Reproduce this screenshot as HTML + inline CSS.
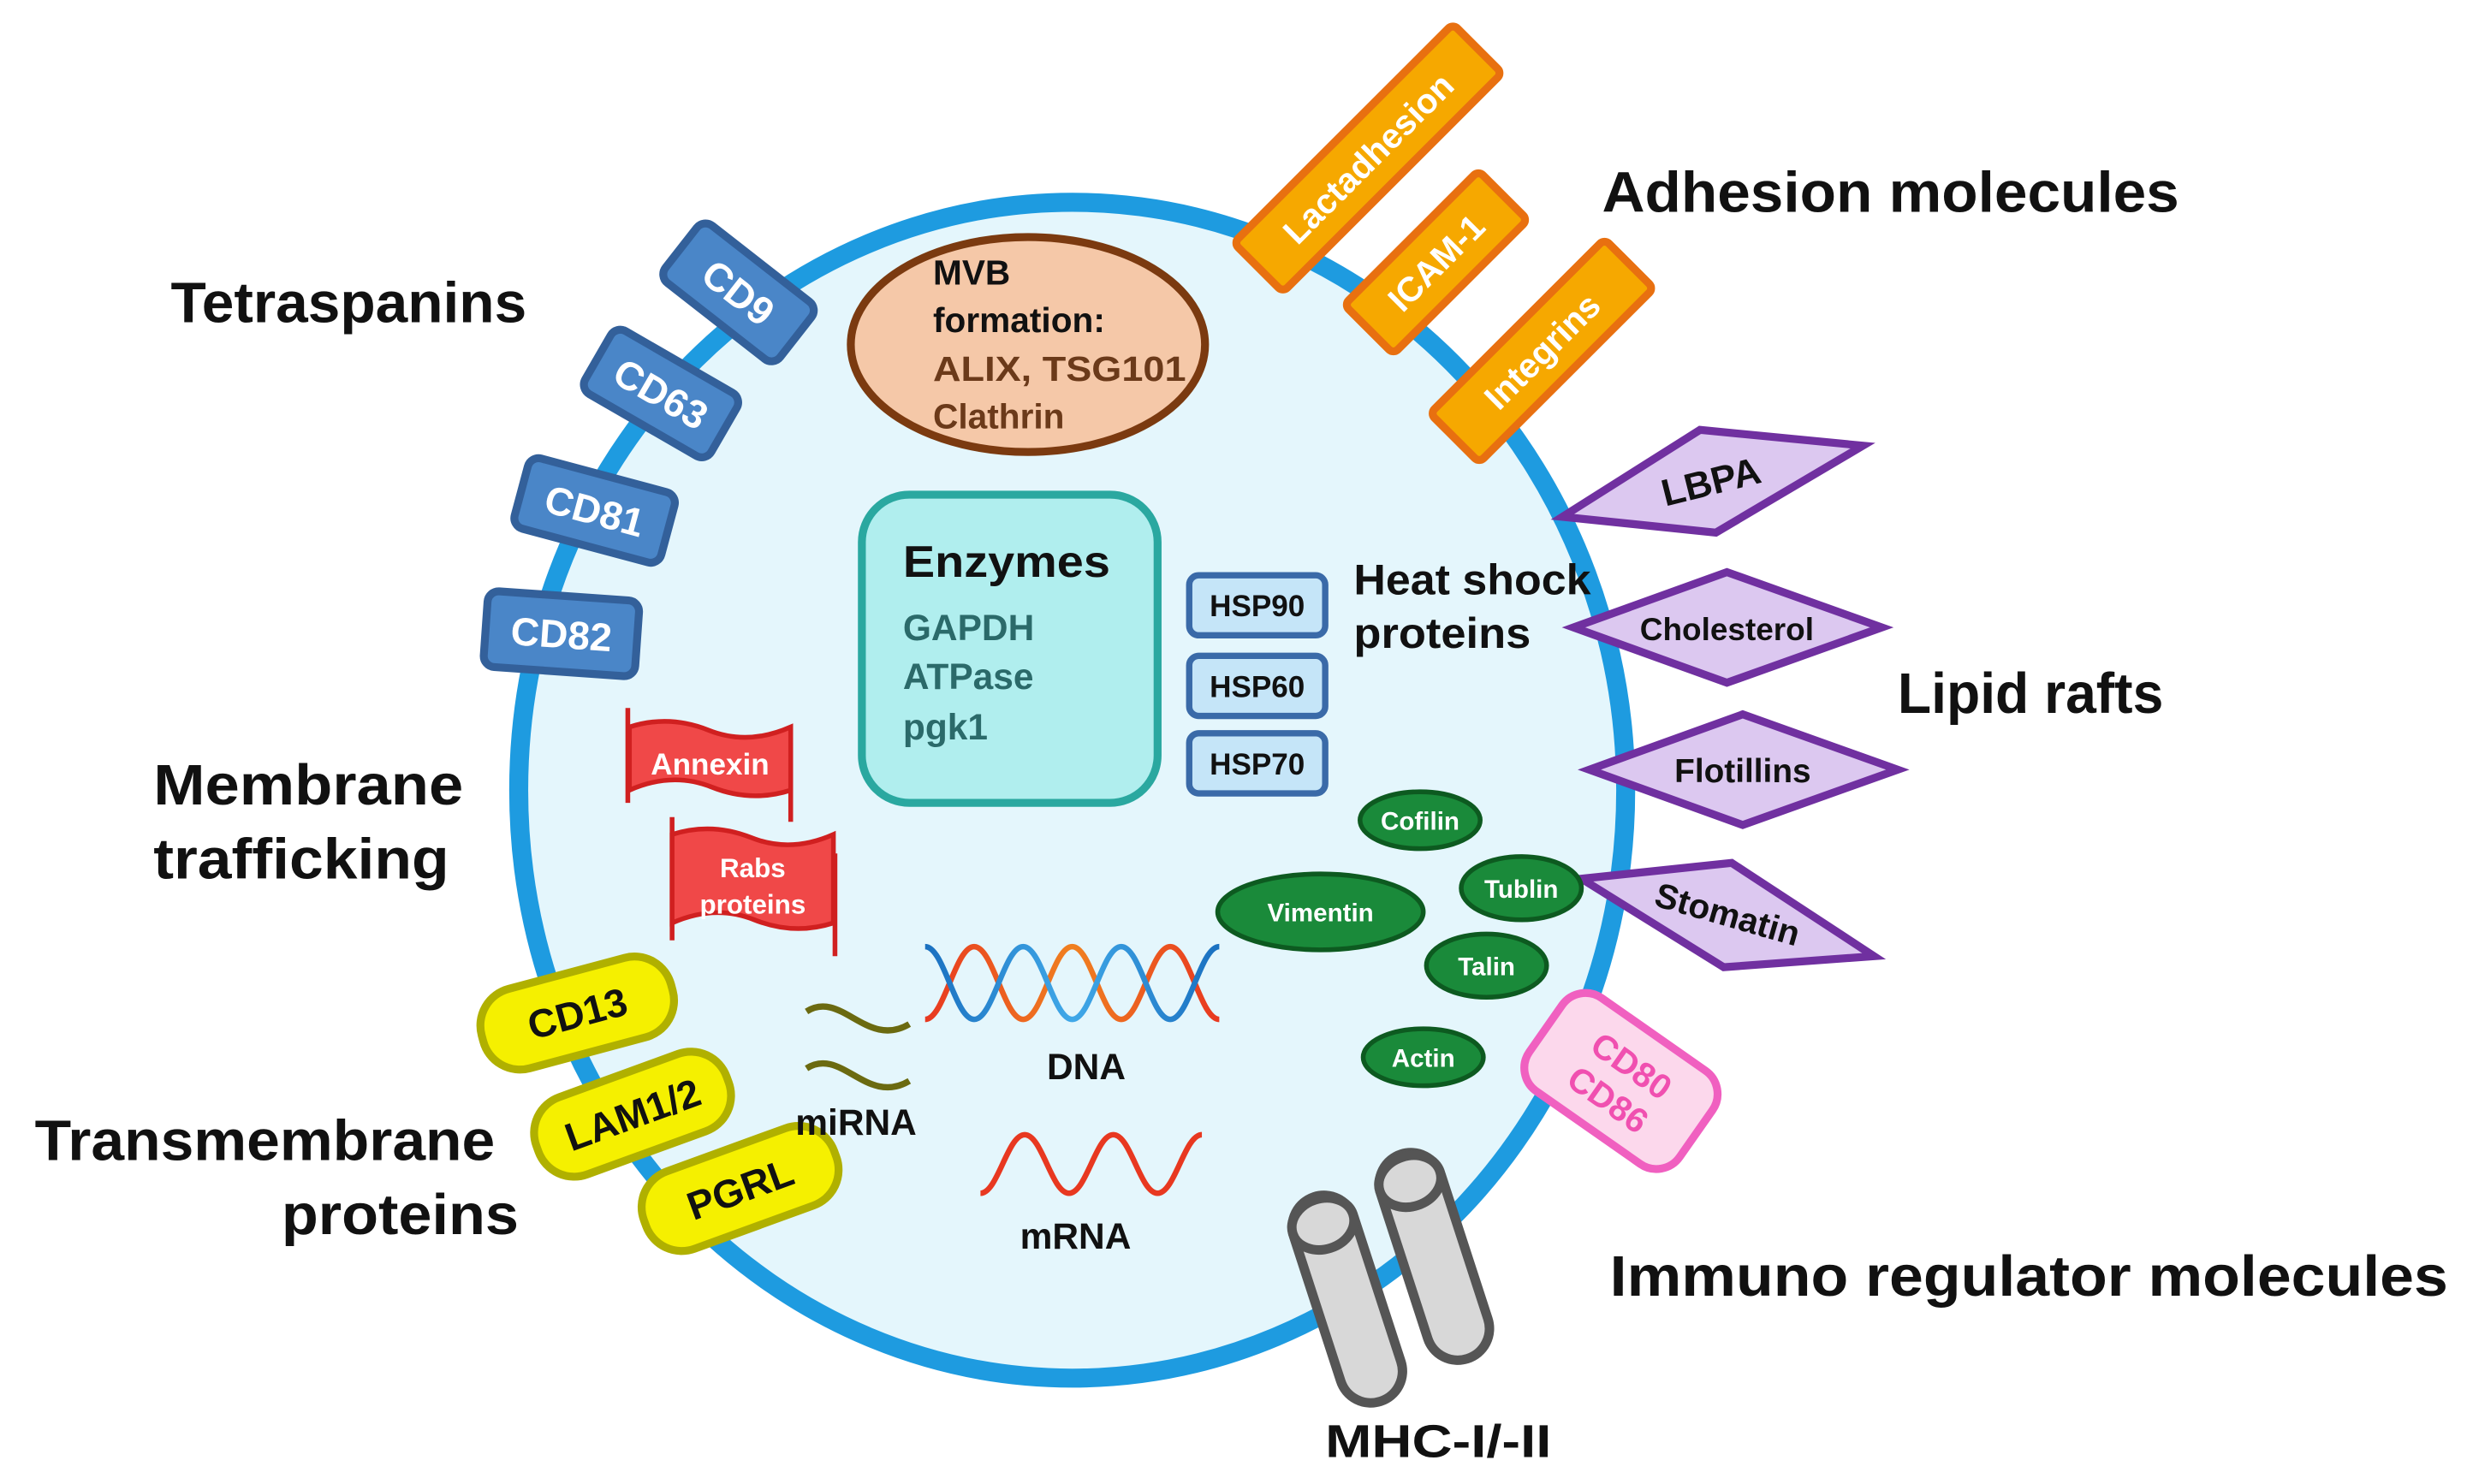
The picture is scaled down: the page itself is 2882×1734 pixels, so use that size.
<!DOCTYPE html>
<html><head><meta charset="utf-8"><style>
html,body{margin:0;padding:0;background:#fff;}
svg{display:block;}
text{font-family:"Liberation Sans",sans-serif;font-weight:bold;}
</style></head><body>
<svg width="2882" height="1734" viewBox="0 0 1560 939" preserveAspectRatio="none" xmlns="http://www.w3.org/2000/svg">
<defs>
<linearGradient id="gr" x1="0" x2="1"><stop offset="0" stop-color="#e83820"/><stop offset="0.5" stop-color="#f08020"/><stop offset="1" stop-color="#e83820"/></linearGradient>
<linearGradient id="gb" x1="0" x2="1"><stop offset="0" stop-color="#1a70c0"/><stop offset="0.5" stop-color="#40a8e8"/><stop offset="1" stop-color="#1a70c0"/></linearGradient>
</defs>
<!-- cell -->
<ellipse cx="678" cy="500" rx="350" ry="372" fill="#e4f6fc" stroke="#1e9be0" stroke-width="12"/>

<!-- headings -->
<g font-size="36" fill="#111">
<text x="108" y="204" textLength="225" lengthAdjust="spacingAndGlyphs">Tetraspanins</text>
<text x="1013" y="134" textLength="365" lengthAdjust="spacingAndGlyphs">Adhesion molecules</text>
<text x="1200" y="451" textLength="168" lengthAdjust="spacingAndGlyphs">Lipid rafts</text>
<text x="97" y="509" textLength="196" lengthAdjust="spacingAndGlyphs">Membrane</text>
<text x="97" y="556" textLength="187" lengthAdjust="spacingAndGlyphs">trafficking</text>
<text x="22" y="734" textLength="291" lengthAdjust="spacingAndGlyphs">Transmembrane</text>
<text x="178" y="781" textLength="150" lengthAdjust="spacingAndGlyphs">proteins</text>
<text x="1018" y="820" textLength="530" lengthAdjust="spacingAndGlyphs">Immuno regulator molecules</text>
</g>
<text x="838" y="922" font-size="29" fill="#111" textLength="143" lengthAdjust="spacingAndGlyphs">MHC-I/-II</text>
<text x="856" y="376" font-size="27" fill="#111" textLength="150" lengthAdjust="spacingAndGlyphs">Heat shock</text>
<text x="856" y="410" font-size="27" fill="#111" textLength="112" lengthAdjust="spacingAndGlyphs">proteins</text>

<!-- tetraspanins -->
<g fill="#4a86c8" stroke="#33609a" stroke-width="5">
<g transform="translate(467,185) rotate(38)"><rect x="-46" y="-23" width="92" height="46" rx="7"/><text x="0" y="9" text-anchor="middle" font-size="25" fill="#fff" stroke="none">CD9</text></g>
<g transform="translate(418,249) rotate(30)"><rect x="-46" y="-23" width="92" height="46" rx="7"/><text x="0" y="9" text-anchor="middle" font-size="25" fill="#fff" stroke="none">CD63</text></g>
<g transform="translate(376,323) rotate(15)"><rect x="-48" y="-23" width="96" height="46" rx="7"/><text x="0" y="9" text-anchor="middle" font-size="25" fill="#fff" stroke="none">CD81</text></g>
<g transform="translate(355,401) rotate(4)"><rect x="-48" y="-24" width="96" height="48" rx="7"/><text x="0" y="9" text-anchor="middle" font-size="25" fill="#fff" stroke="none">CD82</text></g>
</g>

<!-- MVB -->
<ellipse cx="650" cy="218" rx="112" ry="68" fill="#f5c8a8" stroke="#7b3a10" stroke-width="5"/>
<g font-size="22">
<text x="590" y="180" fill="#111">MVB</text>
<text x="590" y="210" fill="#111">formation:</text>
<text x="590" y="241" fill="#6b3a1a" textLength="160" lengthAdjust="spacingAndGlyphs">ALIX, TSG101</text>
<text x="590" y="271" fill="#6b3a1a">Clathrin</text>
</g>

<!-- Enzymes -->
<rect x="545" y="313" width="187" height="195" rx="30" fill="#b0eeee" stroke="#2aa8a0" stroke-width="5"/>
<text x="571" y="365" font-size="28" fill="#111" textLength="131" lengthAdjust="spacingAndGlyphs">Enzymes</text>
<g font-size="23" fill="#2b6a6a">
<text x="571" y="405">GAPDH</text>
<text x="571" y="436">ATPase</text>
<text x="571" y="468">pgk1</text>
</g>

<!-- HSP -->
<g fill="#c5e5f8" stroke="#3a6aa8" stroke-width="4">
<rect x="752" y="364" width="86" height="38" rx="6"/>
<rect x="752" y="415" width="86" height="38" rx="6"/>
<rect x="752" y="464" width="86" height="38" rx="6"/>
</g>
<g font-size="19" fill="#111" text-anchor="middle">
<text x="795" y="390">HSP90</text>
<text x="795" y="441">HSP60</text>
<text x="795" y="490">HSP70</text>
</g>

<!-- adhesion -->
<g fill="#f6a800" stroke="#e87010" stroke-width="5">
<g transform="translate(865,100) rotate(-45)"><rect x="-98" y="-22" width="196" height="44" rx="4"/><text x="0" y="8" text-anchor="middle" font-size="22" fill="#fff" stroke="none">Lactadhesion</text></g>
<g transform="translate(908,166) rotate(-45)"><rect x="-60" y="-22" width="120" height="44" rx="4"/><text x="0" y="8" text-anchor="middle" font-size="22" fill="#fff" stroke="none">ICAM-1</text></g>
<g transform="translate(975,222) rotate(-45)"><rect x="-78" y="-22" width="156" height="44" rx="4"/><text x="0" y="8" text-anchor="middle" font-size="22" fill="#fff" stroke="none">Integrins</text></g>
</g>

<!-- lipid rafts -->
<g fill="#dcc8f0" stroke="#7030a0" stroke-width="5" stroke-linejoin="miter">
<polygon points="988,327 1075,272 1178,282 1085,337"/>
<polygon points="995,397 1092,362 1190,397 1092,432"/>
<polygon points="1005,487 1102,452 1200,487 1102,522"/>
<polygon points="1000,556 1095,546 1185,605 1090,612"/>
</g>
<g fill="#111" text-anchor="middle">
<text x="1082" y="313" font-size="24" transform="rotate(-14 1082 305)">LBPA</text>
<text x="1092" y="405" font-size="20">Cholesterol</text>
<text x="1102" y="495" font-size="21">Flotillins</text>
<text x="1092" y="586" font-size="22" transform="rotate(16 1092 580)">Stomatin</text>
</g>

<!-- green -->
<g fill="#1a8a3a" stroke="#0d5a20" stroke-width="3">
<ellipse cx="898" cy="519" rx="38" ry="18"/>
<ellipse cx="835" cy="577" rx="65" ry="24"/>
<ellipse cx="962" cy="562" rx="38" ry="20"/>
<ellipse cx="940" cy="611" rx="38" ry="20"/>
<ellipse cx="900" cy="669" rx="38" ry="18"/>
</g>
<g fill="#fff" font-size="16" text-anchor="middle">
<text x="898" y="525">Cofilin</text>
<text x="835" y="583">Vimentin</text>
<text x="962" y="568">Tublin</text>
<text x="940" y="617">Talin</text>
<text x="900" y="675">Actin</text>
</g>

<!-- CD80/86 -->
<g transform="translate(1025,684) rotate(35)">
<rect x="-58" y="-36" width="116" height="72" rx="18" fill="#fcd8ec" stroke="#f060c0" stroke-width="5"/>
<text x="0" y="-4" text-anchor="middle" font-size="22" fill="#f050b0" font-weight="normal">CD80</text>
<text x="0" y="22" text-anchor="middle" font-size="22" fill="#f050b0" font-weight="normal">CD86</text>
</g>

<!-- MHC -->
<g fill="#d8d8d8" stroke="#555" stroke-width="6">
<g transform="translate(852,822) rotate(-18)"><rect x="-20" y="-68" width="40" height="136" rx="20"/><ellipse cx="0" cy="-50" rx="20" ry="16"/></g>
<g transform="translate(907,795) rotate(-18)"><rect x="-20" y="-68" width="40" height="136" rx="20"/><ellipse cx="0" cy="-50" rx="20" ry="16"/></g>
</g>

<!-- flags -->
<g stroke="#d02020" stroke-width="3">
<line x1="397" y1="448" x2="397" y2="508"/>
<line x1="500" y1="470" x2="500" y2="520"/>
<line x1="425" y1="517" x2="425" y2="595"/>
<line x1="528" y1="540" x2="528" y2="605"/>
<path d="M398,460 q25,-8 50,2 t52,-2 v40 q-25,8 -50,-2 t-52,2 z" fill="#f04848"/>
<path d="M425,528 q25,-8 50,2 t52,-2 v56 q-25,8 -50,-2 t-52,2 z" fill="#f04848"/>
</g>
<g fill="#fff" text-anchor="middle">
<text x="449" y="490" font-size="19">Annexin</text>
<text x="476" y="555" font-size="17">Rabs</text>
<text x="476" y="578" font-size="17">proteins</text>
</g>

<!-- yellow -->
<g fill="#f5f000" stroke="#b0b000" stroke-width="5">
<g transform="translate(365,641) rotate(-15)"><rect x="-62" y="-26" width="124" height="52" rx="24"/><text x="0" y="9" text-anchor="middle" font-size="25" fill="#111" stroke="none">CD13</text></g>
<g transform="translate(400,705) rotate(-20)"><rect x="-64" y="-26" width="128" height="52" rx="24"/><text x="0" y="9" text-anchor="middle" font-size="25" fill="#111" stroke="none">LAM1/2</text></g>
<g transform="translate(468,752) rotate(-20)"><rect x="-64" y="-26" width="128" height="52" rx="24"/><text x="0" y="9" text-anchor="middle" font-size="25" fill="#111" stroke="none">PGRL</text></g>
</g>

<!-- miRNA -->
<g fill="none" stroke="#6b6a10" stroke-width="4">
<path d="M510,640 c22,-14 38,24 65,8"/>
<path d="M510,676 c22,-14 38,24 65,8"/>
</g>
<text x="503" y="718" font-size="23" fill="#111">miRNA</text>

<!-- DNA -->
<g fill="none" stroke-width="3.5">
<path d="M585,645 c12,0 19,-46 31,-46 s19,46 31,46 s19,-46 31,-46 s19,46 31,46 s19,-46 31,-46 s19,46 31,46" stroke="url(#gr)"/>
<path d="M585,599 c12,0 19,46 31,46 s19,-46 31,-46 s19,46 31,46 s19,-46 31,-46 s19,46 31,46 s19,-46 31,-46" stroke="url(#gb)"/>
</g>
<text x="662" y="683" font-size="23" fill="#111">DNA</text>

<!-- mRNA -->
<path d="M620,755 c11,0 17,-37 28,-37 s17,37 28,37 s17,-37 28,-37 s17,37 28,37 s17,-37 28,-37" fill="none" stroke="#e83820" stroke-width="3.5"/>
<text x="645" y="790" font-size="23" fill="#111">mRNA</text>
</svg>
</body></html>
